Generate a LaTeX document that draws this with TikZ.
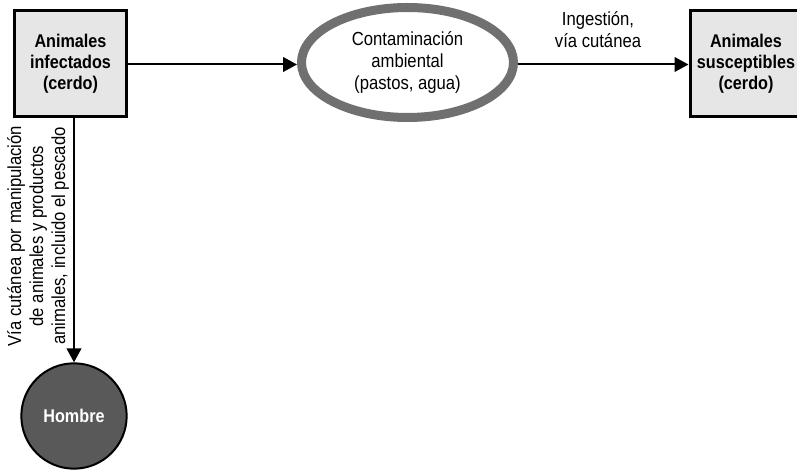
\documentclass[tikz,border=0pt]{standalone}
\usepackage{fontspec}
\setmainfont[FakeStretch=0.88]{Liberation Sans}
\usetikzlibrary{arrows.meta,shapes.geometric}
\definecolor{boxgray}{HTML}{E6E6E6}
\definecolor{ringgray}{HTML}{707070}
\definecolor{mangray}{HTML}{595959}
\tikzset{
  hostbox/.style={draw=black, fill=boxgray, line width=2.25pt, minimum width=84pt, minimum height=79.5pt, align=center, font=\fontsize{13.8}{15.8}\selectfont\bfseries, inner sep=0pt},
  envring/.style={ellipse, draw=ringgray, fill=white, line width=6.75pt, minimum width=159pt, minimum height=82.5pt, align=center, font=\fontsize{14.2}{16.3}\selectfont, inner sep=0pt},
  humancircle/.style={circle, draw=black, fill=mangray, line width=1.5pt, minimum size=79pt, text=white, font=\fontsize{13.8}{15}\selectfont\bfseries, inner sep=0pt},
  flow/.style={line width=1.5pt, -{Triangle[length=10.5pt, width=11pt]}},
  lbl/.style={align=center, font=\fontsize{14.2}{16.5}\selectfont, inner sep=0pt}
}
\begin{document}
\begin{tikzpicture}[x=0.75pt, y=-0.75pt]
\useasboundingbox (0,0) rectangle (797,473);
\node[hostbox] (inf) at (70.5,63.5) {Animales\\infectados\\(cerdo)};
\node[envring] (env) at (407.5,62.5) {Contaminación\\ambiental\\(pastos, agua)};
\node[hostbox] (sus) at (746,63.5) {Animales\\susceptibles\\(cerdo)};
\node[humancircle] (hom) at (74,416) {Hombre};
\draw[flow] (inf.east |- 0,64.5) -- (env.west |- 0,64.5);
\draw[flow] (env.east |- 0,64.5) -- (sus.west |- 0,64.5);
\draw[flow] (inf.south -| hom.north) -- (hom.north);
\node[lbl] (ing) at (598,30) {Ingestión,\\vía cutánea};
\node[lbl, rotate=90] (via) at (38,236) {Vía cutánea por manipulación\\de animales y productos\\animales, incluido el pescado};
\end{tikzpicture}
\end{document}
